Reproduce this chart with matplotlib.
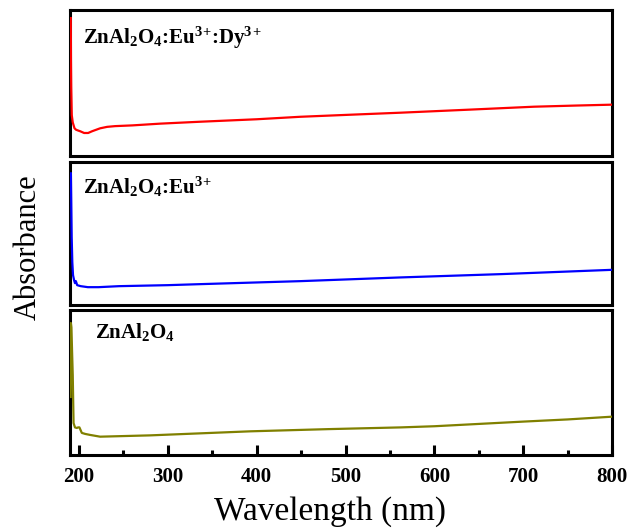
import matplotlib
matplotlib.use("Agg")
import matplotlib.pyplot as plt

plt.rcParams['font.family'] = ['Liberation Serif', 'DejaVu Serif']
plt.rcParams['mathtext.fontset'] = 'custom'
plt.rcParams['mathtext.rm'] = 'Liberation Serif'
plt.rcParams['mathtext.bf'] = 'Liberation Serif:bold'

# absorbance (arbitrary units), one list per sample
wl_dy = [190.8, 191.0, 191.3, 191.9, 193, 195, 196.8, 199, 201.3, 205.8, 210.3, 214.8,
         223.8, 231.7, 240.7, 260, 291.5, 336, 400, 449, 505, 562, 640, 712, 760, 800]
ab_dy = [0.945, 0.66, 0.47, 0.28, 0.23, 0.19, 0.18, 0.175, 0.17, 0.158, 0.158, 0.17,
         0.19, 0.20, 0.205, 0.21, 0.222, 0.235, 0.252, 0.269, 0.283, 0.297, 0.318, 0.338, 0.346, 0.352]

wl_eu = [190.9, 191.3, 191.8, 192.5, 193.3, 194.5, 195.5, 196.5, 198, 202, 210, 222,
         245, 300, 336, 449, 562, 675, 800]
ab_eu = [0.92, 0.73, 0.475, 0.30, 0.21, 0.175, 0.154, 0.168, 0.14, 0.133, 0.126, 0.126,
         0.133, 0.14, 0.147, 0.168, 0.194, 0.217, 0.247]

wl_zn = [190.6, 190.9, 191.5, 192.3, 193.0, 193.9, 195.5, 197.6, 199, 200.5, 203.2, 207,
         212.6, 223.8, 280, 393, 480, 562, 600, 700, 750, 800]
ab_zn = [0.40, 0.91, 0.88, 0.70, 0.55, 0.22, 0.19, 0.186, 0.19, 0.19, 0.152, 0.145,
         0.138, 0.126, 0.135, 0.163, 0.178, 0.19, 0.198, 0.23, 0.245, 0.264]

colon = r'\hspace{-0.2}:\hspace{-0.2}'
colon2 = r'\hspace{-0.35}:\hspace{-0.2}'   # after a superscript
plus = r'^{3\hspace{-0.12}+}'
labels = [r'$\mathbf{ZnAl_2O_4' + colon + r'Eu' + plus + colon2 + r'Dy' + plus + '}$',
          r'$\mathbf{ZnAl_2O_4' + colon + r'Eu' + plus + '}$',
          r'$\mathbf{ZnAl_2O_4}$']
colors = ['#ff0000', '#0000ff', '#808000']
series = [(wl_dy, ab_dy), (wl_eu, ab_eu), (wl_zn, ab_zn)]

fig = plt.figure(figsize=(6.43, 5.29), dpi=100)
boxes = [(0.705, 0.981), (0.423, 0.694), (0.140, 0.414)]
label_x = [0.024, 0.024, 0.046]
label_y = [0.77, 0.78, 0.81]

for i, ((y0, y1), (wl, ab)) in enumerate(zip(boxes, series)):
    ax = fig.add_axes([0.109, y0, 0.843, y1 - y0])
    ax.plot(wl, ab, color=colors[i], lw=1.6, zorder=3)
    ax.set_xlim(190, 800)
    ax.set_ylim(0, 1)
    ax.set_yticks([])
    for s in ax.spines.values():
        s.set_linewidth(2.2)
    ax.text(label_x[i], label_y[i], labels[i], transform=ax.transAxes,
            fontsize=15, va='baseline', ha='left')
    if i < 2:
        ax.set_xticks([])
    else:
        ax.set_xticks([200, 300, 400, 500, 600, 700, 800])
        ax.set_xticks([250, 350, 450, 550, 650, 750], minor=True)
        ax.tick_params(axis='x', which='major', direction='in', length=7, width=2.2,
                       labelsize=15, pad=9)
        ax.tick_params(axis='x', which='minor', direction='in', length=3.5, width=2.2)
        for t in ax.get_xticklabels():
            t.set_fontweight('bold')

fig.text(0.513, 0.017, 'Wavelength (nm)', fontsize=24, ha='center', va='baseline')
fig.text(0.044, 0.533, 'Absorbance', fontsize=22, rotation=90, ha='center', va='center')

fig.savefig('out.png', dpi=100)
